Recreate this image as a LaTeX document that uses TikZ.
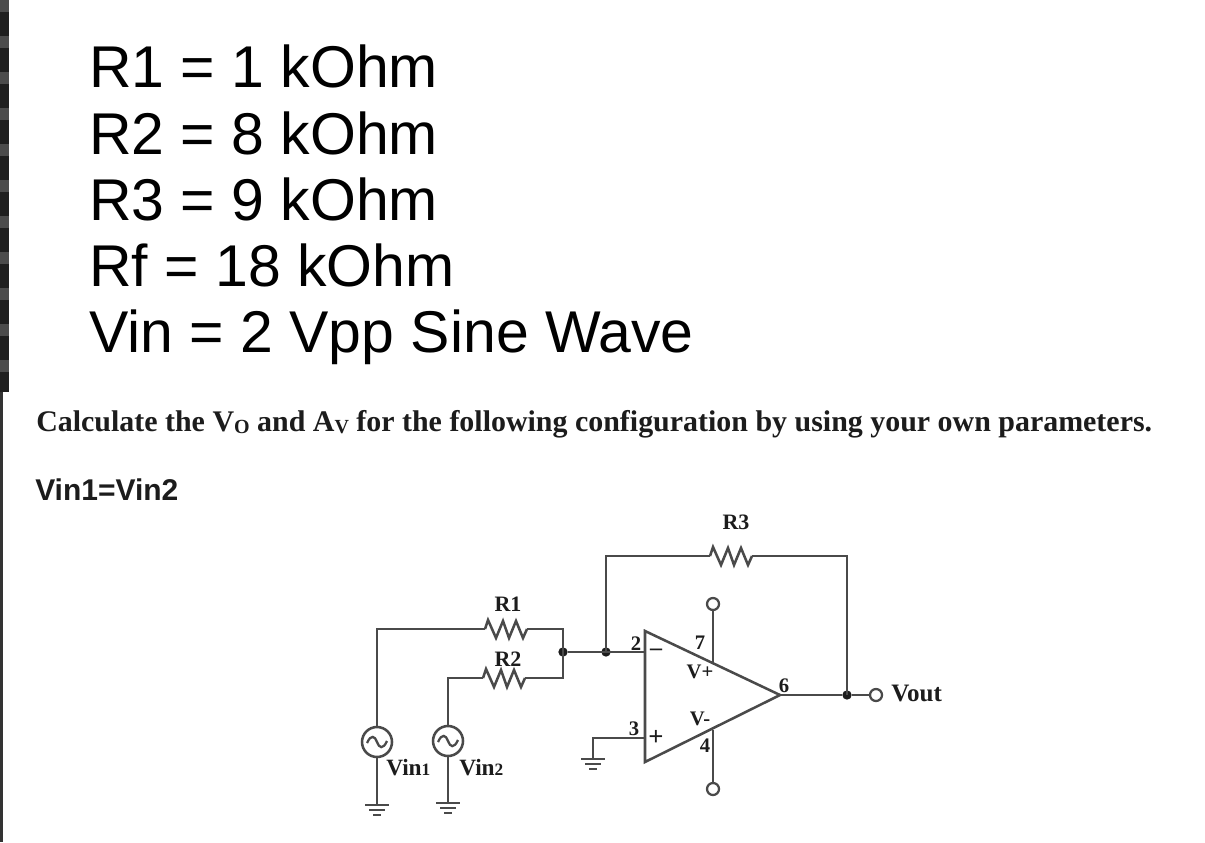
\documentclass[tikz,border=0pt]{standalone}
\usepackage{fontspec}
\setmainfont{Liberation Serif}
\newfontfamily\arialf{Liberation Sans}
\usetikzlibrary{calc}
\definecolor{wire}{HTML}{4A4A4A}
\definecolor{ink}{HTML}{1C1C1C}
\tikzset{
  wirep/.style={draw=wire,line width=1.9pt,line join=miter},
  bigtxt/.style={anchor=base west,inner sep=0pt,text=black,font=\arialf\fontsize{44.2}{44}\selectfont},
  lbl/.style={inner sep=0pt,text=ink,font=\bfseries\fontsize{16.5}{17}\selectfont},
  pinno/.style={inner sep=0pt,text=ink,font=\bfseries\fontsize{15.5}{16}\selectfont},
  src/.style={circle,draw=wire,line width=1.9pt,minimum size=22.5pt,inner sep=0pt},
  term/.style={circle,draw=wire,line width=1.7pt,fill=white,minimum size=9pt,inner sep=0pt},
  junc/.style={circle,fill=ink,minimum size=7pt,inner sep=0pt},
}
\newcommand{\zzag}[2]{%
  \draw[wirep] (#1) -- ++(3,-9) -- ++(8,18) -- ++(7,-17) -- ++(6,17) -- ++(7,-17) -- ++(7,17) -- (#2);}
\newcommand{\gndsym}[1]{%
  \draw[wirep] ($(#1)+(-12,0)$) -- ($(#1)+(12,0)$);
  \draw[wirep] ($(#1)+(-8,5)$) -- ($(#1)+(8,5)$);
  \draw[wirep] ($(#1)+(-4,10)$) -- ($(#1)+(4,10)$);}
\newcommand{\sinewave}[1]{%
  \draw[draw=wire,line width=1.7pt] ($(#1.center)+(-10,1)$) .. controls ($(#1.center)+(-6,-8)$) and ($(#1.center)+(-2,-6)$) .. (#1.center) .. controls ($(#1.center)+(2,6)$) and ($(#1.center)+(6,8)$) .. ($(#1.center)+(10,-1)$);}
\begin{document}
\begin{tikzpicture}[x=0.75pt,y=-0.75pt]
\useasboundingbox (0,0) rectangle (1205,842);
\fill[white] (0,0) rectangle (1205,842);
% dark left edge
\fill[black!88] (0,0) rectangle (9,392);
\foreach \yy in {0,36,...,360}{\fill[black!70] (0,\yy) rectangle (9,\yy+12);}
\fill[black!80] (0,392) rectangle (3,842);
% top text
\node[bigtxt] (t1) at (89,88) {R1 = 1 kOhm};
\node[bigtxt] (t2) at (89,154) {R2 = 8 kOhm};
\node[bigtxt] (t3) at (89,220) {R3 = 9 kOhm};
\node[bigtxt] (t4) at (89,286) {Rf = 18 kOhm};
\node[bigtxt] (t5) at (89,352) {Vin = 2 Vpp Sine Wave};
\node[anchor=base west,inner sep=0pt,text=ink,font=\bfseries\fontsize{22.45}{24}\selectfont] (q) at (36,431)
  {Calculate the V{\fontsize{15}{15}\selectfont\raisebox{-1.5pt}{O}} and A{\fontsize{15}{15}\selectfont\raisebox{-1.5pt}{V}} for the following configuration by using your own parameters.};
\node[anchor=base west,inner sep=0pt,text=ink,font=\arialf\bfseries\fontsize{22.5}{24}\selectfont] (eq) at (35,500) {Vin1=Vin2};
% coordinates
\coordinate (ta) at (645,631);
\coordinate (tb) at (645,762);
\coordinate (tc) at (780,695);
\coordinate (minus) at (645,652);
\coordinate (plus) at (645,738);
\coordinate (p7) at (713,663);
\coordinate (p4) at (713,730);
\coordinate (r1a) at (485,629);
\coordinate (r1b) at (527,629);
\coordinate (r2a) at (483,678);
\coordinate (r2b) at (525,678);
\coordinate (r3a) at (710,556);
\coordinate (r3b) at (752,556);
\coordinate (g1) at (377,805);
\coordinate (g2) at (448,803);
\coordinate (g3) at (593,759);
% nodes
\node[src] (v1) at (377,742) {};
\node[src] (v2) at (448,741) {};
\node[term] (top) at (713,604) {};
\node[term] (bot) at (713,789) {};
\node[term] (out) at (876,695) {};
\node[junc] (j1) at (563,652) {};
\node[junc] (j2) at (606,652) {};
\node[junc] (j3) at (847,695) {};
% op amp
\draw[wirep] (ta) -- (tb) -- (tc) -- cycle;
% wires
\draw[wirep] (v1.north) |- (r1a);
\draw[wirep] (v2.north) |- (r2a);
\zzag{r1a}{r1b}
\zzag{r2a}{r2b}
\zzag{r3a}{r3b}
\draw[wirep] (r1b) -| (j1.center);
\draw[wirep] (r2b) -| (j1.center);
\draw[wirep] (j1) -- (minus);
\draw[wirep] (j2.center) |- (r3a);
\draw[wirep] (r3b) -| (j3.center);
\draw[wirep] (tc) -- (j3) -- (out);
\draw[wirep] (plus) -| (g3);
\draw[wirep] (p7) -- (top);
\draw[wirep] (p4) -- (bot);
\draw[wirep] (v1.south) -- (g1);
\draw[wirep] (v2.south) -- (g2);
\gndsym{g1}
\gndsym{g2}
\gndsym{g3}
\sinewave{v1}
\sinewave{v2}
% labels
\node[lbl] (lr1) at (508,604) {R1};
\node[lbl] (lr2) at (508,659) {R2};
\node[lbl] (lr3) at (736,522) {R3};
\node[anchor=base west,inner sep=0pt,text=ink,font=\bfseries\fontsize{17.5}{18}\selectfont] (lv1) at (386,775) {Vin{\fontsize{13}{13}\selectfont 1}};
\node[anchor=base west,inner sep=0pt,text=ink,font=\bfseries\fontsize{17.5}{18}\selectfont] (lv2) at (459,775) {Vin{\fontsize{13}{13}\selectfont 2}};
\node[anchor=base west,inner sep=0pt,text=ink,font=\bfseries\fontsize{18.8}{19}\selectfont] (lout) at (891,701) {Vout};
\node[pinno] (n2) at (636,644) {2};
\node[pinno] (n3) at (634,729) {3};
\node[pinno] (n7) at (700,643) {7};
\node[pinno] (n4) at (705,746) {4};
\node[pinno] (n6) at (784,686) {6};
\node[pinno] (vp) at (700,672) {V+};
\node[pinno] (vm) at (700,719) {V-};
\node[pinno,font=\bfseries\fontsize{18}{18}\selectfont] (sm) at (656,652) {--};
\node[pinno,font=\bfseries\fontsize{20}{20}\selectfont] (sp) at (656,738) {+};
\end{tikzpicture}
\end{document}
